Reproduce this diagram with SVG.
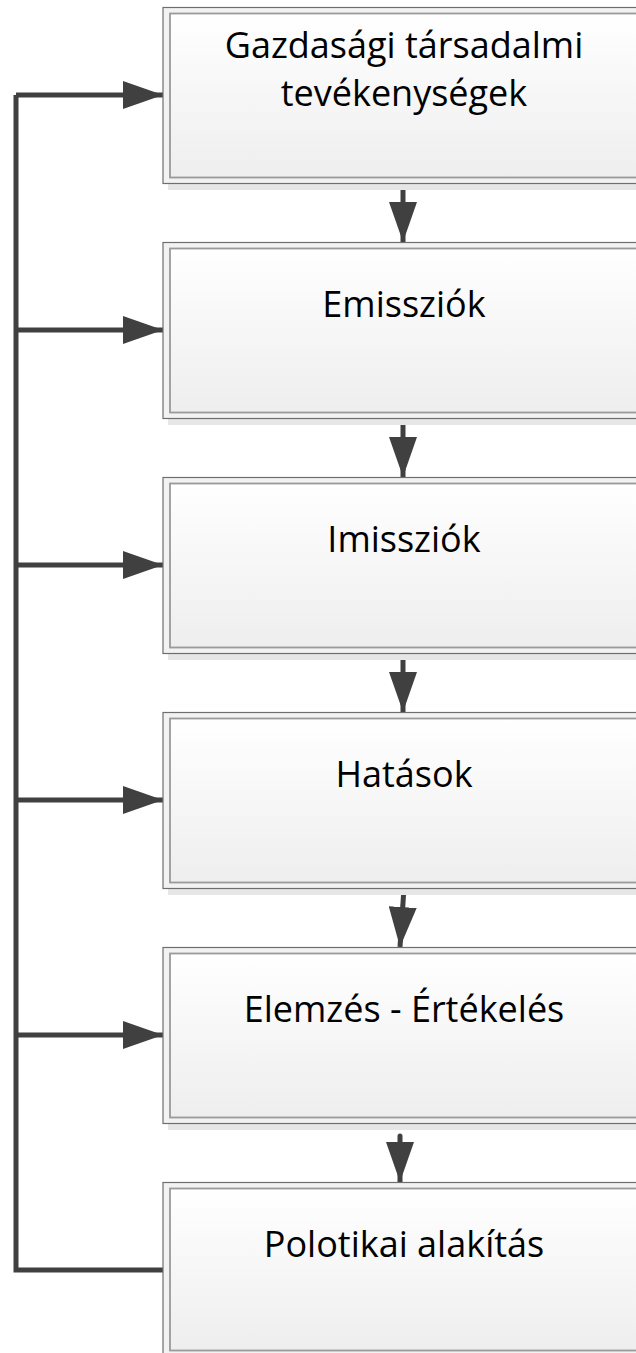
<svg xmlns="http://www.w3.org/2000/svg" width="636" height="1353" viewBox="0 0 636 1353">
  <defs>
    <linearGradient id="boxFill" x1="0" y1="0" x2="0" y2="1">
      <stop offset="0" stop-color="#ffffff"/>
      <stop offset="1" stop-color="#eeeeee"/>
    </linearGradient>
    <marker id="head" viewBox="0 0 40 28" refX="40" refY="14" markerWidth="40" markerHeight="28" markerUnits="userSpaceOnUse" orient="auto">
      <path d="M0,0 L40,14 L0,28 Z" fill="#404040"/>
    </marker>
  </defs>
  <style>
    .shadow { fill: #e6e6e6; }
    .outer { fill: #f2f2f2; stroke: #6e6e6e; stroke-width: 1.2; }
    .inner { fill: url(#boxFill); stroke: #9a9a9a; stroke-width: 1.8; }
    .label { font-family: "Open Sans", "Noto Sans", sans-serif; font-size: 36px; fill: #000; text-anchor: middle; }
    .conn { fill: none; stroke: #404040; stroke-width: 5; }
  </style>

  <rect width="636" height="1353" fill="#ffffff"/>

  <g id="connectors">
    <!-- feedback bus on the left -->
    <polyline class="conn" points="163,1270 16,1270 16,95"/>
    <line class="conn" x1="16" y1="95" x2="163" y2="95" marker-end="url(#head)"/>
    <line class="conn" x1="16" y1="330" x2="163" y2="330" marker-end="url(#head)"/>
    <line class="conn" x1="16" y1="565" x2="163" y2="565" marker-end="url(#head)"/>
    <line class="conn" x1="16" y1="800" x2="163" y2="800" marker-end="url(#head)"/>
    <line class="conn" x1="16" y1="1035" x2="163" y2="1035" marker-end="url(#head)"/>
    <!-- downward flow -->
    <line class="conn" x1="403" y1="183" x2="403" y2="242" marker-end="url(#head)"/>
    <line class="conn" x1="403" y1="418" x2="403" y2="477" marker-end="url(#head)"/>
    <line class="conn" x1="403" y1="653" x2="403" y2="712" marker-end="url(#head)"/>
    <line class="conn" x1="404" y1="888" x2="400" y2="947" marker-end="url(#head)"/>
    <line class="conn" stroke-linecap="round" x1="400" y1="1136" x2="400" y2="1182" marker-end="url(#head)"/>
  </g>

  <g id="node-gazdasagi">
    <rect class="shadow" x="168" y="183" width="480" height="7"/>
    <rect class="outer" x="163" y="7.5" width="480" height="176"/>
    <rect class="inner" x="170" y="13.5" width="480" height="164"/>
    <text class="label" x="404" y="58">Gazdasági társadalmi</text>
    <text class="label" x="404" y="106">tevékenységek</text>
  </g>

  <g id="node-emissziok">
    <rect class="shadow" x="168" y="418" width="480" height="7"/>
    <rect class="outer" x="163" y="242.5" width="480" height="176"/>
    <rect class="inner" x="170" y="248.5" width="480" height="164"/>
    <text class="label" x="404" y="317">Emissziók</text>
  </g>

  <g id="node-imissziok">
    <rect class="shadow" x="168" y="653" width="480" height="7"/>
    <rect class="outer" x="163" y="477.5" width="480" height="176"/>
    <rect class="inner" x="170" y="483.5" width="480" height="164"/>
    <text class="label" x="404" y="552">Imissziók</text>
  </g>

  <g id="node-hatasok">
    <rect class="shadow" x="168" y="888" width="480" height="7"/>
    <rect class="outer" x="163" y="712.5" width="480" height="176"/>
    <rect class="inner" x="170" y="718.5" width="480" height="164"/>
    <text class="label" x="404" y="787">Hatások</text>
  </g>

  <g id="node-elemzes">
    <rect class="shadow" x="168" y="1123" width="480" height="7"/>
    <rect class="outer" x="163" y="947.5" width="480" height="176"/>
    <rect class="inner" x="170" y="953.5" width="480" height="164"/>
    <text class="label" x="404" y="1022">Elemzés - Értékelés</text>
  </g>

  <g id="node-politikai">
    <rect class="outer" x="163" y="1182.5" width="480" height="176"/>
    <rect class="inner" x="170" y="1188.5" width="480" height="162"/>
    <text class="label" x="404" y="1257">Polotikai alakítás</text>
  </g>
</svg>
